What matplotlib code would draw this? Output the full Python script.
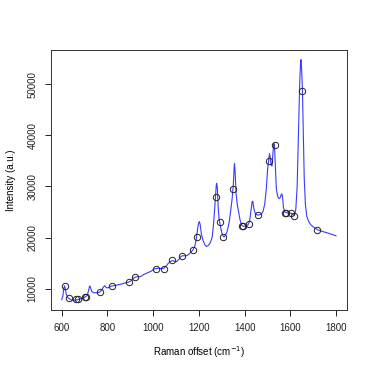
import matplotlib
matplotlib.use("Agg")
import matplotlib.pyplot as plt

# ── Data ──────────────────────────────────────────────────────────────────────
raman_shift = [
    600, 605, 609, 612, 615, 620, 628, 640, 652, 665, 680, 695, 705, 712, 718,
    722, 726, 731, 738, 750, 765, 775, 782, 788, 793, 800, 810, 818, 830, 845,
    860, 875, 894, 905, 915, 923, 935, 946, 960, 975, 990, 1007, 1020, 1035,
    1045, 1055, 1065, 1075, 1084, 1093, 1102, 1112, 1120, 1127, 1138, 1148,
    1158, 1166, 1174, 1182, 1188, 1193, 1198, 1202, 1206, 1211, 1218, 1226,
    1233, 1242, 1250, 1258, 1264, 1269, 1273, 1276, 1278, 1281, 1285, 1289,
    1294, 1300, 1306, 1310, 1316, 1322, 1328, 1334, 1340, 1346, 1351, 1354,
    1356, 1359, 1363, 1368, 1374, 1380, 1388, 1395, 1405, 1415, 1422, 1428,
    1433, 1436, 1440, 1446, 1454, 1462, 1472, 1480, 1488, 1495, 1501, 1506,
    1509, 1512, 1516, 1520, 1524, 1528, 1531, 1535, 1539, 1544, 1550, 1556,
    1560, 1563, 1566, 1570, 1576, 1585, 1595, 1604, 1612, 1618, 1624, 1630,
    1636, 1641, 1645, 1647, 1650, 1653, 1657, 1661, 1666, 1672, 1680, 1690,
    1700, 1720, 1740, 1760, 1780, 1800,
]
intensity = [
    7850, 8500, 10000, 10550, 10200, 8900, 8200, 7850, 7720, 7800, 8000, 8200,
    8450, 8700, 9700, 10550, 10300, 9500, 9250, 9200, 9300, 9700, 10300, 10600,
    10300, 10150, 10350, 10520, 10600, 10750, 10900, 11100, 11300, 11600, 12100,
    12300, 12350, 12400, 12800, 13100, 13400, 13900, 14000, 13950, 13950, 14300,
    14900, 15300, 15500, 15350, 15270, 15700, 16200, 16450, 16440, 16500, 16800,
    17200, 17600, 18300, 19500, 21200, 22700, 23140, 22500, 20700, 19500, 18600,
    18250, 18500, 19000, 20000, 22500, 25500, 28000, 30200, 30600, 29700, 25500,
    23500, 22300, 21000, 20300, 20100, 20400, 21000, 22000, 23400, 25500, 27800,
    30500, 33500, 34500, 32500, 28500, 26500, 25000, 23500, 22400, 22200, 22300,
    22500, 23200, 25200, 27000, 27100, 25800, 24800, 24450, 24400, 24600, 25000,
    26500, 29500, 33500, 35300, 36400, 35800, 34200, 34000, 36500, 38400, 37800,
    33500, 29500, 28200, 27600, 27800, 28400, 28550, 28000, 25900, 25000, 24850,
    24800, 24770, 24450, 24300, 25500, 30000, 41000, 50000, 54300, 54800, 52500,
    49000, 40000, 31500, 26500, 24200, 23200, 22500, 22100, 21500, 21200, 20950,
    20650, 20350,
]

# picked points (open circles)
peak_x = [614, 631, 663, 672, 703, 706, 768, 818, 894, 922, 1013, 1048, 1083,
          1125, 1175, 1191, 1273, 1291, 1307, 1351, 1388, 1391, 1419, 1458,
          1506, 1531, 1577, 1583, 1605, 1618, 1653, 1717]
peak_y = [10450, 8200, 7950, 8050, 8450, 8450, 9300, 10550, 11250, 12300,
          13950, 13950, 15520, 16400, 17560, 20090, 27900, 23010, 20200, 29510,
          22350, 22250, 22620, 24440, 34980, 38200, 24830, 24780, 24770, 24300,
          48750, 21580]

x_ticks = [600, 800, 1000, 1200, 1400, 1600, 1800]
y_ticks = [10000, 20000, 30000, 40000, 50000]

# ── Plot ──────────────────────────────────────────────────────────────────────
plt.rcParams['font.family'] = ['Liberation Sans', 'DejaVu Sans']

fig = plt.figure(figsize=(3.74, 3.74), dpi=100)
ax = fig.add_axes([0.1356, 0.1711, 0.7922, 0.6952])

ax.plot(raman_shift, intensity, color='#3a3aff', lw=0.8)
ax.plot(peak_x, peak_y, 'o', mfc='none', mec='#222222', ms=4.6, mew=0.7)

# R-style 4% padding
xr = max(raman_shift) - min(raman_shift)
yr = max(intensity) - min(intensity)
ax.set_xlim(min(raman_shift) - 0.04 * xr, max(raman_shift) + 0.04 * xr)
ax.set_ylim(min(intensity) - 0.04 * yr, max(intensity) + 0.04 * yr)

ax.set_xticks(x_ticks)
ax.set_yticks(y_ticks)
ax.set_yticklabels([str(v) for v in y_ticks], rotation=90, va='center')
ax.tick_params(direction='out', length=4.5, width=0.7, labelsize=7, pad=5,
               colors='#222222')
for s in ax.spines.values():
    s.set_linewidth(0.7)
    s.set_color('#333333')

ax.set_xlabel('Raman offset (cm$^{-1}$)', fontsize=7, labelpad=8)
ax.set_ylabel('Intensity (a.u.)', fontsize=7, labelpad=8)

fig.savefig('out.png', dpi=100)
